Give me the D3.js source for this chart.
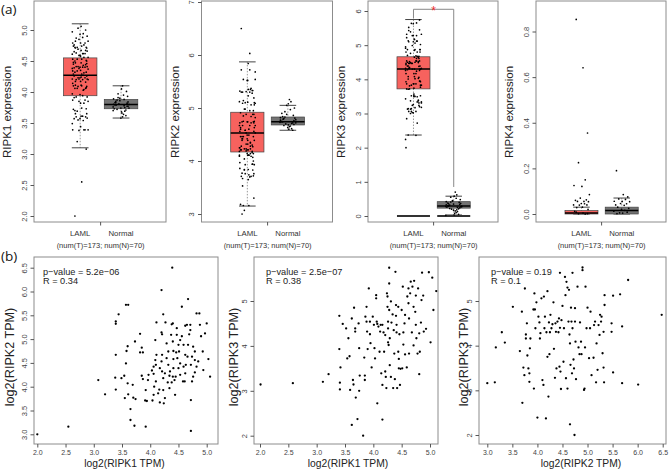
<!DOCTYPE html>
<html>
<head>
<meta charset="utf-8">
<script src="https://cdn.jsdelivr.net/npm/d3@7"></script>
<style>
  body { margin: 0; background: #fff; }
  svg { display: block; }
  text { font-family: "Liberation Sans", Arial, sans-serif; }
</style>
</head>
<body>
<svg id="fig" width="669" height="471"></svg>
<script>
// ---- data ----
const genes = ["RIPK1", "RIPK2", "RIPK3", "RIPK4"];
const groups = ["LAML", "Normal"];
const countLabel = "(num(T)=173; num(N)=70)";
const boxTicks = [[2, 2.5, 3, 3.5, 4, 4.5, 5], [3, 4, 5, 6, 7], [0, 1, 2, 3, 4, 5, 6], [0, 0.2, 0.4, 0.6, 0.8]];

// [lower whisker, q1, median, q3, upper whisker]
const lamlStats = [[3.10, 3.94, 4.27, 4.55, 5.10], [3.15, 4.17, 4.53, 4.92, 5.87], [2.37, 3.72, 4.30, 4.66, 5.75], [0, 0, 0.004, 0.015, 0.03]];
const normalStats = [[3.58, 3.73, 3.80, 3.88, 4.10], [4.58, 4.68, 4.74, 4.83, 5.05], [0.03, 0.23, 0.29, 0.42, 0.58], [0, 0, 0.015, 0.03, 0.07]];

const ripk1Normal = [3.83, 4.10, 3.77, 3.91, 3.69, 3.80, 4.05, 3.74, 3.86, 3.62, 3.79, 3.95, 3.72, 3.84, 3.58, 3.88, 3.76, 4.01, 3.81, 3.66,
  3.79, 3.93, 3.73, 3.85, 3.60, 3.82, 3.97, 3.75, 3.89, 3.68, 3.80, 3.90, 3.71, 3.83, 3.64, 3.87, 3.77, 3.74, 3.78, 3.70];
const ripk2Normal = [4.74, 5.16, 4.69, 4.83, 4.61, 4.77, 5.08, 4.72, 4.88, 4.58, 4.75, 4.97, 4.67, 4.81, 4.63, 5.12, 4.73, 4.86, 4.70, 4.60,
  4.79, 5.00, 4.74, 4.84, 4.65, 4.76, 4.93, 4.71, 4.82, 4.68, 4.78, 5.05, 4.72, 4.90, 4.66, 4.80];
const ripk3Normal = [0.29, 0.70, 0.24, 0.41, 0.13, 0.33, 0.58, 0.27, 0.45, 0.05, 0.30, 0.52, 0.22, 0.37, 0.17, 0.62, 0.28, 0.40, 0.20, 0.08,
  0.31, 0.48, 0.26, 0.36, 0.15, 0.34, 0.55, 0.25, 0.42, 0.03, 0.29, 0.44, 0.21, 0.38, 0.10, 0.32, 0.27, 0.35, 0.18, 0.02];
const ripk4Laml = [0.853, 0.641, 0.355, 0.225, 0.150, 0.125, 0.121, 0.085, 0.070, 0.062, 0.060, 0.055, 0.055, 0.054, 0.046, 0.045,
  0.040, 0.040, 0.039, 0.030, 0.028, 0.020, 0.012, 0.008, 0.004, 0.002, 0.001, 0.0];
const ripk4Normal = [0.190, 0.085, 0.075, 0.066, 0.064, 0.056, 0.055, 0.054, 0.046, 0.045, 0.040, 0.038, 0.030, 0.025, 0.020, 0.016,
  0.012, 0.008, 0.005, 0.004, 0.002];

// scatter pairs [x, y]
const ripk1VsRipk2 = [
  [2.00, 3.00], [2.55, 3.16], [3.08, 4.14], [3.20, 3.84], [3.39, 5.37], [3.39, 5.32], [3.44, 5.52], [3.39, 4.67], [3.38, 4.19], [3.39, 3.94],
  [3.57, 5.72], [3.61, 5.72], [3.60, 4.85], [3.58, 4.75], [3.57, 4.49], [3.54, 4.23], [3.49, 4.18], [3.60, 4.07], [3.55, 3.76], [3.61, 3.84],
  [3.65, 3.53], [3.65, 3.30], [3.72, 3.18], [3.70, 3.77], [3.74, 3.74], [3.73, 4.95], [3.69, 4.04], [3.82, 4.72], [3.87, 4.72], [3.82, 5.11],
  [3.85, 4.82], [3.85, 4.23], [3.87, 4.16], [3.91, 3.71], [3.94, 3.70], [3.92, 3.16], [3.92, 3.93], [3.96, 4.14], [4.03, 4.34], [3.97, 4.25],
  [4.06, 4.27], [4.09, 4.98], [4.11, 5.35], [4.11, 4.67], [4.09, 4.56], [4.10, 4.46], [4.06, 4.42], [4.10, 4.11], [4.07, 4.00], [4.06, 3.83],
  [4.04, 3.71], [4.14, 3.86], [4.17, 4.39], [4.20, 4.53], [4.21, 4.32], [4.23, 4.18], [4.26, 4.28], [4.20, 6.03], [4.20, 5.14], [4.21, 5.10],
  [4.23, 5.52], [4.27, 5.35], [4.21, 4.67], [4.16, 3.94], [4.23, 3.93], [4.24, 3.65], [4.17, 3.67], [4.26, 3.76], [4.29, 4.91], [4.32, 4.74],
  [4.29, 4.60], [4.32, 4.46], [4.34, 4.23], [4.31, 4.09], [4.34, 3.97], [4.35, 4.32], [4.37, 5.09], [4.38, 5.31], [4.40, 5.33], [4.39, 6.50],
  [4.40, 4.95], [4.41, 4.75], [4.41, 4.39], [4.40, 4.21], [4.43, 4.14], [4.38, 4.09], [4.44, 3.83], [4.41, 4.58], [4.47, 5.23], [4.47, 5.09],
  [4.50, 4.88], [4.48, 4.60], [4.50, 4.39], [4.53, 4.49], [4.51, 4.74], [4.53, 4.98], [4.56, 5.06], [4.53, 4.25], [4.58, 4.11], [4.56, 5.68],
  [4.59, 4.88], [4.62, 5.28], [4.65, 5.30], [4.62, 4.67], [4.63, 4.46], [4.66, 4.63], [4.59, 4.42], [4.62, 4.28], [4.61, 4.11], [4.67, 4.88],
  [4.69, 5.10], [4.67, 5.84], [4.71, 5.30], [4.71, 5.19], [4.74, 4.63], [4.72, 4.46], [4.74, 4.11], [4.72, 3.72], [4.72, 3.07], [4.76, 4.84],
  [4.79, 4.56], [4.79, 4.74], [4.82, 5.54], [4.85, 4.53], [4.79, 4.30], [4.76, 4.21], [4.88, 5.30], [4.87, 5.54], [4.90, 5.06], [4.93, 4.74],
  [4.94, 4.35], [4.97, 5.12], [5.00, 5.33], [5.03, 4.58], [5.06, 4.21], [4.82, 4.42], [4.46, 4.72], [4.45, 4.21]
];
const ripk1VsRipk3 = [
  [2.01, 3.14], [2.58, 3.17], [3.11, 3.20], [3.21, 3.37], [3.40, 4.67], [3.40, 3.93], [3.42, 3.52], [3.41, 3.18], [3.41, 3.03], [3.46, 4.49],
  [3.52, 4.39], [3.56, 4.17], [3.54, 3.72], [3.58, 3.77], [3.59, 3.02], [3.62, 4.61], [3.62, 2.24], [3.64, 3.24], [3.65, 3.14], [3.66, 4.85],
  [3.68, 4.32], [3.68, 4.39], [3.69, 2.85], [3.72, 2.37], [3.74, 4.50], [3.75, 3.95], [3.75, 3.00], [3.76, 3.34], [3.82, 2.00], [3.84, 3.74],
  [3.85, 3.34], [3.85, 3.24], [3.86, 4.65], [3.88, 4.87], [3.88, 4.54], [3.89, 4.32], [3.90, 3.93], [3.92, 5.28], [3.94, 4.54], [3.94, 4.26],
  [3.95, 4.06], [3.97, 3.52], [3.99, 4.65], [4.01, 4.47], [4.02, 3.95], [4.03, 3.72], [4.05, 5.13], [4.05, 5.06], [4.06, 4.54], [4.07, 4.49],
  [4.07, 2.72], [4.09, 4.43], [4.11, 3.87], [4.12, 4.32], [4.13, 4.47], [4.14, 3.39], [4.16, 3.13], [4.16, 2.36], [4.16, 4.47], [4.18, 4.30],
  [4.19, 3.87], [4.21, 4.24], [4.21, 3.43], [4.22, 3.31], [4.23, 3.06], [4.24, 5.17], [4.25, 5.10], [4.25, 4.87], [4.26, 4.54], [4.26, 4.39],
  [4.27, 4.02], [4.28, 5.74], [4.28, 5.39], [4.28, 4.80], [4.29, 4.17], [4.29, 3.57], [4.31, 3.31], [4.31, 4.99], [4.32, 4.52], [4.34, 4.70],
  [4.35, 3.06], [4.36, 4.35], [4.37, 3.83], [4.38, 3.26], [4.39, 5.65], [4.40, 4.91], [4.40, 4.67], [4.41, 4.47], [4.41, 4.30], [4.42, 3.06],
  [4.44, 4.87], [4.44, 3.87], [4.45, 3.71], [4.45, 3.50], [4.46, 4.26], [4.47, 3.13], [4.48, 3.49], [4.50, 4.80], [4.51, 3.50], [4.52, 5.32],
  [4.53, 4.30], [4.53, 4.03], [4.55, 4.50], [4.56, 4.69], [4.56, 3.81], [4.59, 3.52], [4.60, 5.10], [4.62, 5.28], [4.62, 4.95], [4.63, 4.61],
  [4.63, 3.83], [4.65, 5.17], [4.66, 5.43], [4.68, 4.30], [4.69, 5.32], [4.71, 4.01], [4.71, 4.87], [4.72, 5.45], [4.74, 4.76], [4.75, 5.12],
  [4.75, 4.47], [4.76, 4.17], [4.78, 3.83], [4.79, 5.28], [4.81, 3.37], [4.81, 4.28], [4.82, 3.87], [4.84, 4.52], [4.85, 5.02], [4.86, 5.63],
  [4.88, 5.12], [4.89, 4.32], [4.93, 4.38], [4.98, 5.64], [5.01, 4.08], [5.04, 5.52], [5.06, 4.80], [5.11, 5.22], [4.26, 4.08]
];
const ripk2VsRipk3 = [
  [3.00, 3.16], [3.15, 3.18], [3.17, 3.96], [3.29, 4.30], [3.35, 4.07], [3.51, 4.87], [3.65, 3.88], [3.69, 4.76], [3.70, 2.72], [3.72, 3.51],
  [3.74, 3.34], [3.75, 5.28], [3.77, 4.25], [3.77, 4.16], [3.79, 4.50], [3.82, 3.49], [3.84, 3.38], [3.84, 3.19], [3.85, 3.94], [3.86, 4.16],
  [3.92, 4.81], [3.94, 5.17], [3.95, 4.81], [3.93, 3.04], [3.96, 4.39], [3.98, 4.97], [4.00, 2.39], [4.02, 4.65], [4.04, 4.52], [4.05, 4.16],
  [4.06, 4.28], [4.08, 5.06], [4.10, 3.23], [4.12, 3.12], [4.13, 5.10], [4.14, 4.39], [4.15, 4.65], [4.17, 2.37], [4.18, 4.30], [4.20, 5.22],
  [4.20, 3.75], [4.22, 2.86], [4.23, 4.52], [4.24, 3.81], [4.25, 4.30], [4.26, 4.69], [4.28, 4.39], [4.30, 4.48], [4.32, 4.97], [4.33, 3.93],
  [4.35, 3.28], [4.36, 4.50], [4.37, 4.31], [4.38, 3.49], [4.40, 4.54], [4.42, 4.30], [4.43, 4.61], [4.44, 3.53], [4.45, 4.40], [4.45, 5.63],
  [4.46, 3.42], [4.47, 3.03], [4.48, 4.57], [4.50, 4.89], [4.52, 3.64], [4.53, 4.39], [4.55, 5.54], [4.56, 5.13], [4.57, 3.27], [4.58, 5.43],
  [4.60, 5.30], [4.60, 3.04], [4.62, 4.54], [4.63, 5.25], [4.64, 4.25], [4.65, 4.05], [4.65, 2.24], [4.66, 3.57], [4.67, 4.85], [4.68, 4.54],
  [4.69, 3.38], [4.70, 4.39], [4.70, 5.63], [4.72, 3.69], [4.73, 3.49], [4.74, 2.00], [4.75, 4.84], [4.75, 4.54], [4.76, 4.09], [4.77, 3.25],
  [4.80, 5.32], [4.82, 3.96], [4.84, 3.81], [4.85, 4.52], [4.87, 4.09], [4.88, 3.81], [4.90, 5.75], [4.90, 5.69], [4.93, 3.01], [4.94, 3.04],
  [4.95, 3.96], [4.96, 5.32], [4.98, 4.39], [5.00, 4.85], [5.03, 3.72], [5.05, 4.39], [5.06, 4.76], [5.08, 3.34], [5.12, 3.73], [5.13, 4.46],
  [5.15, 4.54], [5.17, 3.18], [5.18, 4.05], [5.20, 3.46], [5.22, 4.46], [5.24, 4.24], [5.25, 4.69], [5.27, 4.54], [5.28, 4.65], [5.30, 3.83],
  [5.32, 3.51], [5.33, 3.18], [5.34, 4.91], [5.34, 5.13], [5.32, 4.31], [5.48, 4.50], [5.48, 4.31], [5.51, 5.12], [5.51, 3.40], [5.65, 5.15],
  [5.69, 4.43], [5.69, 3.16], [5.81, 5.47], [6.01, 3.13], [6.48, 4.69], [3.80, 3.78]
];
const scatterNotes = [["p\u2212value = 5.2e\u221206", "R = 0.34"], ["p\u2212value = 2.5e\u221207", "R = 0.38"], ["p\u2212value = 0.19", "R = 0.1"]];
const scatterXTitles = ["log2(RIPK1 TPM)", "log2(RIPK1 TPM)", "log2(RIPK2 TPM)"];
const scatterYTitles = ["log2(RIPK2 TPM)", "log2(RIPK3 TPM)", "log2(RIPK3 TPM)"];
const scatterXTicks = [[2, 2.5, 3, 3.5, 4, 4.5, 5], [2, 2.5, 3, 3.5, 4, 4.5, 5], [3, 3.5, 4, 4.5, 5, 5.5, 6, 6.5]];
const scatterYTicks = [[3, 3.5, 4, 4.5, 5, 5.5, 6, 6.5], [2, 3, 4, 5], [2, 3, 4, 5]];

// fixed horizontal spread of the strip points (fraction of half-spread)
const jitter = [-0.62, 0.18, 0.71, -0.35, 0.44, -0.88, 0.05, 0.93, -0.14, 0.57, -0.71, 0.29, -0.47, 0.82, -0.02, 0.36, -0.93, 0.64, -0.25, 0.11, -0.56, 0.77, -0.80];

// ---- layout ----
const svg = d3.select("#fig");
const lamlColor = "#f7625e", normalColor = "#737373";

function htext(g, x, y, str, size, anchor, fill) {
  return g.append("text")
    .attr("x", x).attr("y", y)
    .attr("text-anchor", anchor || "middle")
    .attr("dominant-baseline", "central")
    .attr("fill", fill || "#222")
    .style("font-size", size + "px")
    .text(str);
}
function vtext(g, x, y, str, size, fill) {
  return g.append("text")
    .attr("transform", `translate(${x},${y}) rotate(-90)`)
    .attr("text-anchor", "middle")
    .attr("dominant-baseline", "central")
    .attr("fill", fill || "#222")
    .style("font-size", size + "px")
    .text(str);
}
function leftAxis(g, scale, values, fmt, x) {
  const ax = g.append("g").attr("transform", `translate(${x},0)`)
    .call(d3.axisLeft(scale).tickValues(values).tickFormat(fmt).tickSize(3.5));
  ax.select(".domain").remove();
  ax.selectAll("line").attr("stroke", "#555");
  ax.selectAll("text")
    .attr("x", null).attr("dy", null)
    .attr("transform", "translate(-10,0) rotate(-90)")
    .attr("text-anchor", "middle")
    .attr("dominant-baseline", "central")
    .attr("fill", "#444")
    .style("font-size", "7.5px")
    .style("font-family", "'Liberation Sans', Arial, sans-serif");
  return ax;
}

htext(svg, 1, 9, "(a)", 13.5, "start", "#111").style("font-family", "'Open Sans', sans-serif");
htext(svg, 1, 256, "(b)", 13.5, "start", "#111").style("font-family", "'Open Sans', sans-serif");

// ---- panel (a): box plots ----
const boxTop = 1, boxBottom = 222;
const boxLayout = [
  { left: 34, right: 166, dom: [2, 5], rng: [216, 30], fmt: d3.format(".1f") },
  { left: 201.5, right: 332.5, dom: [3, 7], rng: [214, 2], fmt: d3.format("d") },
  { left: 368, right: 498, dom: [0, 6], rng: [216, 11], fmt: d3.format("d") },
  { left: 536, right: 666, dom: [0, 0.8], rng: [214, 31.5], fmt: d3.format(".1f") }
];
const lamlPoints = [ripk1VsRipk2.map(d => d[0]), ripk1VsRipk2.map(d => d[1]), ripk1VsRipk3.map(d => d[1]), ripk4Laml];
const normalPoints = [ripk1Normal, ripk2Normal, ripk3Normal, ripk4Normal];

boxLayout.forEach((L, i) => {
  const g = svg.append("g");
  const x = d3.scaleLinear().domain([-0.13, 3.1]).range([L.left, L.right]);
  const y = d3.scaleLinear().domain(L.dom).range(L.rng);

  g.append("rect").attr("x", L.left).attr("y", boxTop)
    .attr("width", L.right - L.left).attr("height", boxBottom - boxTop)
    .attr("fill", "none").attr("stroke", "#8c8c8c").attr("stroke-width", 1);

  [lamlStats[i], normalStats[i]].forEach((s, k) => {
    const cx = x(k + 1), hw = x(k + 1.41) - cx, cw = hw * 0.5;
    g.append("line").attr("x1", cx).attr("x2", cx).attr("y1", y(s[4])).attr("y2", y(s[0]))
      .attr("stroke", "#999").attr("stroke-dasharray", "1.5,1.5");
    [s[0], s[4]].forEach(v => g.append("line").attr("x1", cx - cw).attr("x2", cx + cw)
      .attr("y1", y(v)).attr("y2", y(v)).attr("stroke", "#444").attr("stroke-width", 1));
    g.append("rect").attr("x", cx - hw).attr("width", 2 * hw)
      .attr("y", y(s[3])).attr("height", Math.max(1, y(s[1]) - y(s[3])))
      .attr("fill", k === 0 ? lamlColor : normalColor).attr("stroke", "#444").attr("stroke-width", 0.7);
    g.append("line").attr("x1", cx - hw).attr("x2", cx + hw).attr("y1", y(s[2])).attr("y2", y(s[2]))
      .attr("stroke", "#000").attr("stroke-width", 1.5);
  });

  if (i === 2) {
    // flat boxes sitting at zero
    [1, 2].forEach(p => g.append("line").attr("x1", x(p - 0.41)).attr("x2", x(p + 0.41))
      .attr("y1", y(0)).attr("y2", y(0)).attr("stroke", "#333").attr("stroke-width", 1.8));
    // significance bracket
    const top = y(6.05);
    g.append("path")
      .attr("d", `M${x(1)},${y(lamlStats[2][4]) - 1}V${top}H${x(2)}V${y(0.85)}`)
      .attr("fill", "none").attr("stroke", "#888").attr("stroke-width", 1);
    g.append("text").attr("x", x(1.5)).attr("y", top + 5.5).attr("text-anchor", "middle")
      .attr("fill", "#ee2b2b").style("font-size", "12px").text("*");
  }

  [lamlPoints[i], normalPoints[i]].forEach((pts, k) => {
    const cx = x(k + 1);
    g.selectAll(null).data(pts).enter().append("circle")
      .attr("cx", (d, j) => cx + jitter[j % jitter.length] * 8.5)
      .attr("cy", d => y(d)).attr("r", 0.85).attr("fill", "#000");
  });

  leftAxis(g, y, boxTicks[i], L.fmt, L.left);
  vtext(g, L.left - 27, 112, genes[i] + " expression", 11.5);

  g.append("line").attr("x1", x(1.5)).attr("x2", x(1.5)).attr("y1", boxBottom).attr("y2", boxBottom + 3.5).attr("stroke", "#555");
  groups.forEach((gr, k) => htext(g, x(k + 1), 233, gr, 7.8, "middle", "#333"));
  htext(g, x(1.5), 245.5, countLabel, 7.5, "middle", "#333");
});

// ---- panel (b): scatter plots ----
const scTop = 257, scBottom = 444;
const scatterLayout = [
  { left: 34, right: 218, xd: [2, 5], xr: [37.3, 206.7], yd: [3, 6.5], yr: [434.3, 267.7], yt: 10, xt: 124.5, fmtY: d3.format(".1f") },
  { left: 254, right: 438, xd: [2, 5], xr: [260, 430], yd: [2, 5], yr: [435.7, 301], yt: 234, xt: 348, fmtY: d3.format("d") },
  { left: 479, right: 666, xd: [3, 6.5], xr: [487.3, 662.7], yd: [2, 5], yr: [435, 301], yt: 464, xt: 581, fmtY: d3.format("d") }
];
const scatterData = [ripk1VsRipk2, ripk1VsRipk3, ripk2VsRipk3];

scatterLayout.forEach((L, i) => {
  const g = svg.append("g");
  const x = d3.scaleLinear().domain(L.xd).range(L.xr);
  const y = d3.scaleLinear().domain(L.yd).range(L.yr);

  g.append("rect").attr("x", L.left).attr("y", scTop)
    .attr("width", L.right - L.left).attr("height", scBottom - scTop)
    .attr("fill", "none").attr("stroke", "#8c8c8c").attr("stroke-width", 1);

  g.selectAll(null).data(scatterData[i]).enter().append("circle")
    .attr("cx", d => x(d[0])).attr("cy", d => y(d[1])).attr("r", 1.15).attr("fill", "#000");

  leftAxis(g, y, scatterYTicks[i], L.fmtY, L.left);
  const ax = g.append("g").attr("transform", `translate(0,${scBottom})`)
    .call(d3.axisBottom(x).tickValues(scatterXTicks[i]).tickFormat(d3.format(".1f")).tickSize(3.5).tickPadding(2.5));
  ax.select(".domain").remove();
  ax.selectAll("line").attr("stroke", "#555");
  ax.selectAll("text").attr("fill", "#444")
    .style("font-size", "7px").style("font-family", "'Liberation Sans', Arial, sans-serif");

  htext(g, L.xt, 463.5, scatterXTitles[i], 10.3, "middle", "#222");
  vtext(g, L.yt, 357, scatterYTitles[i], 12.6);

  const tx = L.left + (i === 0 ? 9 : 12);
  htext(g, tx, 271.5, scatterNotes[i][0], 9.2, "start", "#222");
  htext(g, tx, 281, scatterNotes[i][1], 9.2, "start", "#222");
});
</script>
</body>
</html>
